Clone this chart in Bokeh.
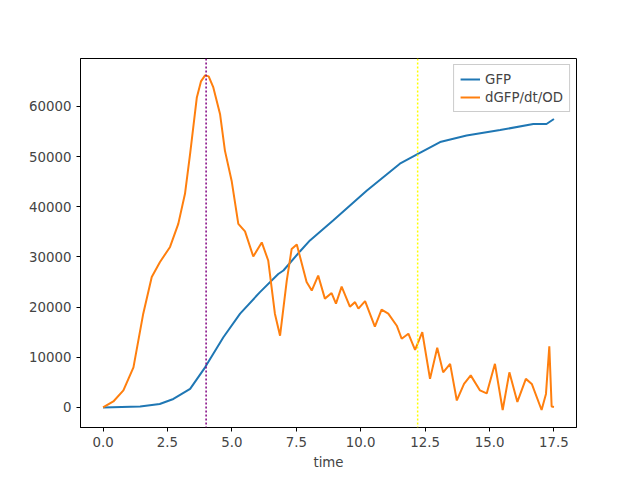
from bokeh.plotting import figure
from bokeh.models import Range1d, FixedTicker, Span, Legend, LegendItem, CustomJSTickFormatter
from bokeh.embed import file_html
from bokeh.resources import INLINE

# GFP curve
gfp_t = [0, 1.44, 2.2, 2.73, 3.38, 3.96, 4.67, 5.32, 6.09, 6.8, 7.0, 7.64, 8.03, 8.94,
         10.23, 11.52, 12.24, 13.08, 14.11, 15.41, 16.7, 17.21, 17.5]
gfp = [0, 200, 700, 1700, 3700, 8000, 14000, 18700, 23000, 26600, 27300, 31100, 33300, 37300,
       43200, 48600, 50600, 52900, 54200, 55300, 56500, 56500, 57500]

# dGFP/dt/OD curve
rate_t = [0, 0.4, 0.79, 1.18, 1.56, 1.89, 2.21, 2.6, 2.92, 3.18, 3.38, 3.64, 3.8, 3.96, 4.1,
          4.28, 4.54, 4.73, 4.99, 5.25, 5.51, 5.83, 6.16, 6.41, 6.67, 6.87, 7.13, 7.32, 7.52,
          7.9, 8.1, 8.35, 8.61, 8.87, 9.04, 9.26, 9.58, 9.78, 9.91, 10.17, 10.55, 10.81,
          11.07, 11.4, 11.59, 11.85, 12.11, 12.39, 12.69, 12.97, 13.2, 13.47, 13.73, 14.01,
          14.27, 14.63, 14.89, 15.21, 15.51, 15.77, 16.08, 16.41, 16.64, 17.02, 17.19, 17.32,
          17.41, 17.5]
rate = [0, 1200, 3400, 8000, 18700, 26000, 29000, 32000, 36600, 42600, 50600, 61800, 65000,
        66200, 66000, 63800, 58500, 51200, 45200, 36600, 35100, 30100, 32900, 29300, 18700,
        14300, 25300, 31600, 32500, 25000, 23300, 26300, 21700, 22800, 20700, 24100, 20100,
        21000, 19700, 21200, 16100, 19500, 18700, 16300, 13700, 14700, 11500, 15000,
        5700, 11900, 7000, 8700, 1400, 4700, 6400, 3400, 2800, 8700, -500, 7000, 1100,
        5700, 4700, -500, 2700, 12200, 200, 100]

peak_time = 4.0
late_time = 12.21

p = figure(width=640, height=480, output_backend="svg", toolbar_location=None,
           x_range=Range1d(-0.875, 18.375), y_range=Range1d(-3990, 69560),
           min_border_left=80, min_border_right=64, min_border_top=58, min_border_bottom=53)
p.xgrid.visible = False
p.ygrid.visible = False
p.outline_line_color = "black"

l1 = p.line(gfp_t, gfp, color="#1f77b4", line_width=2)
l2 = p.line(rate_t, rate, color="#ff7f0e", line_width=2)

p.add_layout(Span(location=peak_time, dimension="height", line_color="purple",
                  line_dash="2 2", line_width=1.5))
p.add_layout(Span(location=late_time, dimension="height", line_color="#ffff00",
                  line_dash="2 2", line_width=1.5))

p.xaxis.ticker = FixedTicker(ticks=[0, 2.5, 5, 7.5, 10, 12.5, 15, 17.5])
p.xaxis.formatter = CustomJSTickFormatter(code="return tick.toFixed(1);")
p.yaxis.ticker = FixedTicker(ticks=[0, 10000, 20000, 30000, 40000, 50000, 60000])
p.xaxis.axis_label = "time"
for ax in (p.xaxis, p.yaxis):
    ax.major_label_text_font = "DejaVu Sans"
    ax.major_label_text_font_size = "10pt"
    ax.axis_label_text_font = "DejaVu Sans"
    ax.axis_label_text_font_size = "10pt"
    ax.axis_label_text_font_style = "normal"
    ax.minor_tick_line_color = None
    ax.major_tick_out = 4
    ax.major_tick_in = 0

legend = Legend(items=[LegendItem(label="GFP", renderers=[l1]),
                       LegendItem(label="dGFP/dt/OD", renderers=[l2])],
                location="top_right", label_text_font="DejaVu Sans",
                label_text_font_size="10pt", border_line_color="#cccccc",
                border_line_alpha=1.0, spacing=2, padding=6, margin=6,
                label_height=16, glyph_height=16)
p.add_layout(legend)

open("out.html", "w").write(file_html(p, INLINE))
